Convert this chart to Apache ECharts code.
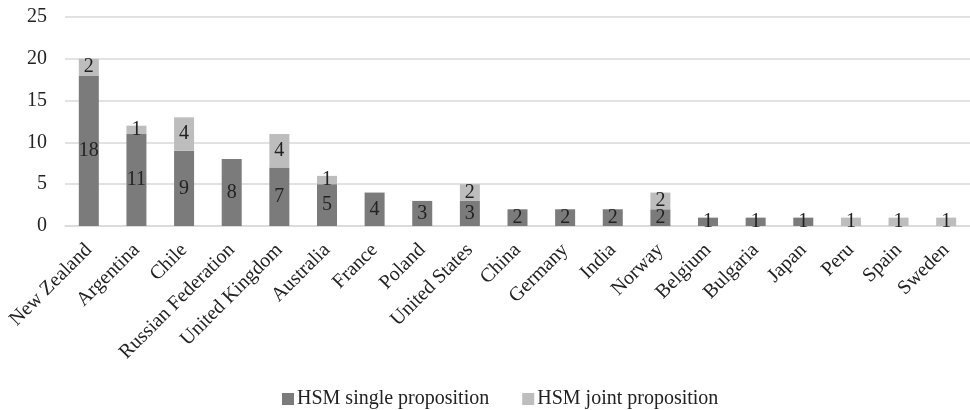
<!DOCTYPE html>
<html>
<head>
<meta charset="utf-8">
<script src="https://cdn.jsdelivr.net/npm/echarts@6/dist/echarts.min.js"></script>
<style>
  html, body { margin: 0; padding: 0; background: #fff; }
  #chart { width: 970px; height: 410px; }
</style>
</head>
<body>
<div id="chart"></div>
<script>
const countries = ['New Zealand', 'Argentina', 'Chile', 'Russian Federation', 'United Kingdom',
  'Australia', 'France', 'Poland', 'United States', 'China', 'Germany', 'India', 'Norway',
  'Belgium', 'Bulgaria', 'Japan', 'Peru', 'Spain', 'Sweden'];
const singleProposition = [18, 11, 9, 8, 7, 5, 4, 3, 3, 2, 2, 2, 2, 1, 1, 1, 0, 0, 0];
const jointProposition  = [2, 1, 4, 0, 4, 1, 0, 0, 2, 0, 0, 0, 2, 0, 0, 0, 1, 1, 1];
const yTicks = [0, 5, 10, 15, 20, 25];

const font = '"Liberation Serif", "Times New Roman", serif';
const textColor = '#222';
const fontSize = 20;

const valueLabel = {
  show: true,
  position: 'inside',
  color: textColor,
  fontFamily: font,
  fontSize: fontSize,
  formatter: p => (p.value ? String(p.value) : '')
};

const chart = echarts.init(document.getElementById('chart'));
chart.setOption({
  animation: false,
  textStyle: { fontFamily: font },
  grid: { left: 65, right: -5, top: 17, bottom: 184, containLabel: false },
  legend: {
    top: 384,
    left: 277,
    itemWidth: 12,
    itemHeight: 12,
    itemGap: 33,
    icon: 'rect',
    textStyle: { fontFamily: font, fontSize: fontSize, color: textColor, padding: [0, 0, 0, -2] },
    data: ['HSM single proposition', 'HSM joint proposition']
  },
  xAxis: {
    type: 'category',
    data: countries,
    axisLine: { show: true, lineStyle: { color: '#d9d9d9', width: 1.5 } },
    axisTick: { show: false },
    axisLabel: {
      interval: 0,
      rotate: 45,
      margin: 21,
      color: textColor,
      fontFamily: font,
      fontSize: fontSize
    }
  },
  yAxis: {
    type: 'value',
    min: yTicks[0],
    max: yTicks[yTicks.length - 1],
    interval: 5,
    axisLine: { show: false },
    axisTick: { show: false },
    splitLine: { lineStyle: { color: '#d9d9d9', width: 1.5 } },
    axisLabel: { color: textColor, fontFamily: font, fontSize: fontSize, margin: 18 }
  },
  series: [
    {
      name: 'HSM single proposition',
      type: 'bar',
      stack: 'hsm',
      barWidth: 20,
      itemStyle: { color: '#7b7b7b' },
      label: valueLabel,
      data: singleProposition
    },
    {
      name: 'HSM joint proposition',
      type: 'bar',
      stack: 'hsm',
      barWidth: 20,
      itemStyle: { color: '#bdbdbd' },
      label: valueLabel,
      data: jointProposition
    }
  ]
});
</script>
</body>
</html>
